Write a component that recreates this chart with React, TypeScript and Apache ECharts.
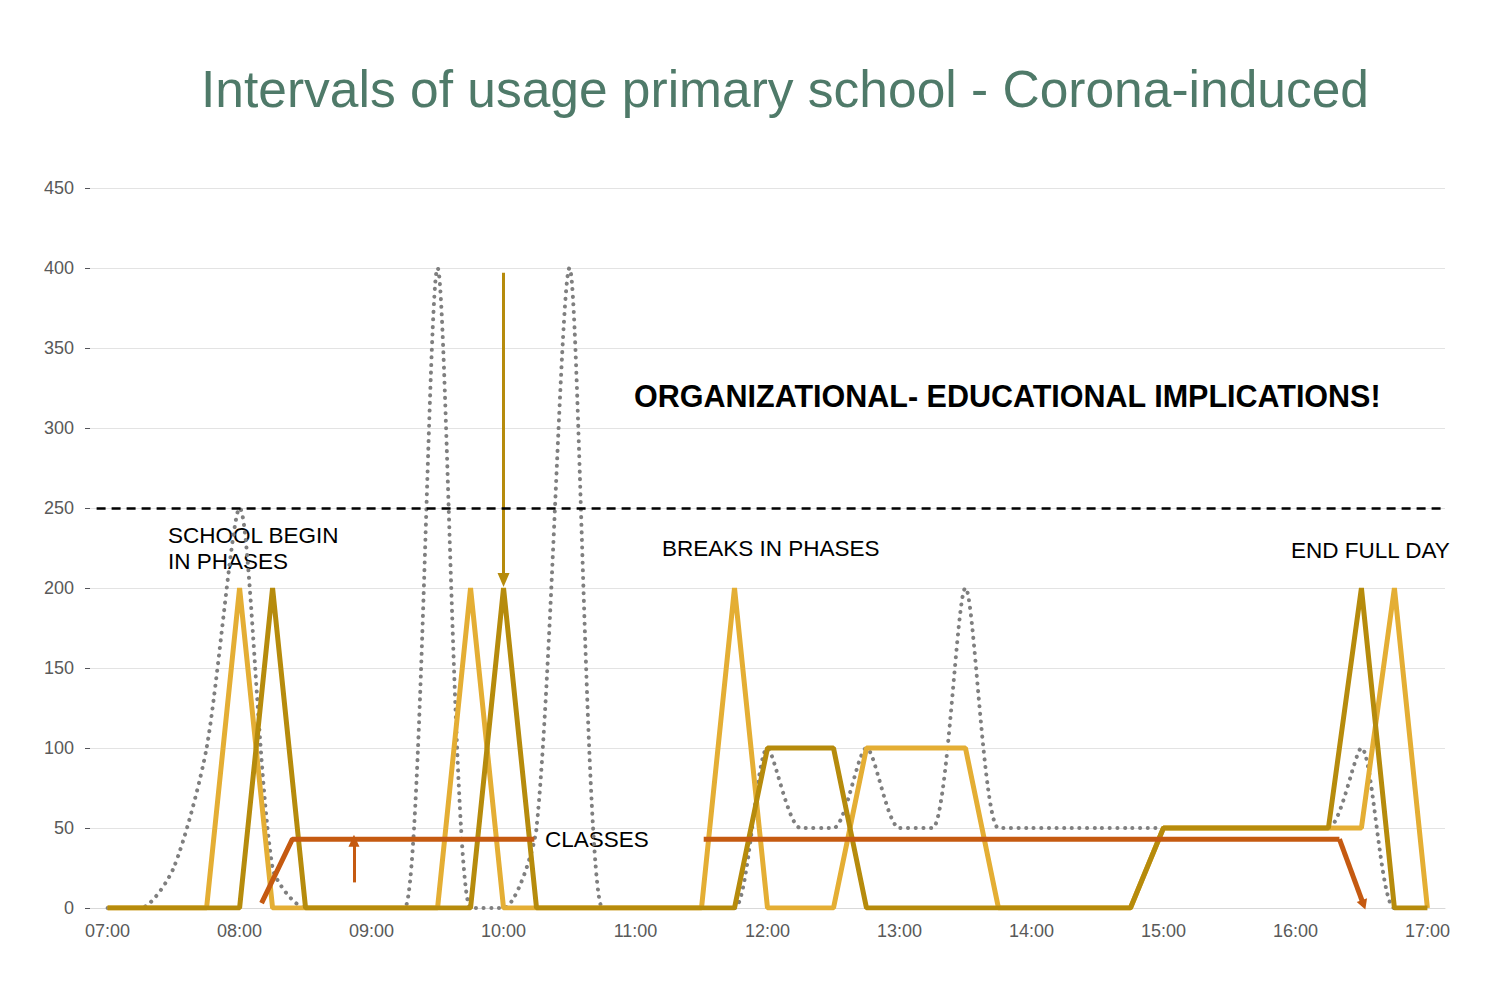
import React, { useEffect, useRef } from "react";
import * as echarts from "echarts";

// times in minutes since midnight, every 15 min from 07:00 to 17:00
const times: number[] = [];
for (let m = 420; m <= 1020; m += 15) times.push(m);

const lightGold = [
  0, 0, 0, 0, 200, 0, 0, 0, 0, 0, 0, 200, 0, 0, 0, 0, 0, 0, 0, 200, 0, 0, 0, 100,
  100, 100, 100, 0, 0, 0, 0, 0, 50, 50, 50, 50, 50, 50, 50, 200, 0,
];
const darkGold = [
  0, 0, 0, 0, 0, 200, 0, 0, 0, 0, 0, 0, 200, 0, 0, 0, 0, 0, 0, 0, 100, 100, 100, 0,
  0, 0, 0, 0, 0, 0, 0, 0, 50, 50, 50, 50, 50, 50, 200, 0, 0,
];
const visitors = [
  0, 0, 25, 100, 250, 25, 0, 0, 0, 0, 400, 0, 0, 50, 400, 0, 0, 0, 0, 0, 100, 50, 50,
  100, 50, 50, 200, 50, 50, 50, 50, 50, 50, 50, 50, 50, 50, 50, 100, 0, 0,
];
const classesA = [
  [490, 3],
  [504, 43],
  [614, 43],
];
const classesB = [
  [691, 43],
  [980, 43],
];
const hourTicks = [420, 480, 540, 600, 660, 720, 780, 840, 900, 960, 1020];
const yTicks = [0, 50, 100, 150, 200, 250, 300, 350, 400, 450];

const fmt = (m: number) => `${String(Math.floor(m / 60)).padStart(2, "0")}:00`;
const pair = (arr: number[]) => times.map((t, i) => [t, arr[i]]);

const App: React.FC = () => {
  const ref = useRef<HTMLDivElement>(null);

  useEffect(() => {
    if (!ref.current) return;
    const chart = echarts.init(ref.current, undefined, { renderer: "svg" });
    const txt = (left: number, top: number, text: string, size = 22.5, weight = "normal") => ({
      type: "text",
      left,
      top,
      style: { text, fontSize: size, fontWeight: weight, fill: "#000", fontFamily: "Liberation Sans", lineHeight: 26 },
    });
    chart.setOption({
      animation: false,
      textStyle: { fontFamily: "Liberation Sans" },
      title: {
        text: "Intervals of usage primary school - Corona-induced",
        left: 780,
        textAlign: "center",
        top: 58,
        textStyle: { fontSize: 51.5, fontWeight: "normal", color: "#4F7A69", fontFamily: "Liberation Sans" },
      },
      grid: { left: 90, right: 55, top: 188, bottom: 92 },
      xAxis: {
        type: "value",
        min: 412,
        max: 1028,
        axisLine: { show: true, lineStyle: { color: "#d9d9d9" } },
        axisTick: { show: false },
        splitLine: { show: false },
        axisLabel: { customValues: hourTicks, formatter: (v: number) => fmt(v), color: "#595959", fontSize: 18, margin: 14 },
      },
      yAxis: {
        type: "value",
        min: 0,
        max: 450,
        interval: 50,
        axisLine: { show: false },
        axisLabel: { customValues: yTicks, color: "#595959", fontSize: 18, margin: 16 },
        splitLine: { lineStyle: { color: "#e3e3e3" } },
      },
      series: [
        {
          type: "line",
          data: pair(visitors),
          smooth: 0.25,
          symbol: "none",
          lineStyle: { color: "#7F7F7F", width: 4, type: [0.1, 7.5], cap: "round" },
          z: 1,
        },
        {
          type: "line",
          data: pair(lightGold),
          symbol: "none",
          lineStyle: { color: "#E4AE34", width: 5 },
          z: 2,
        },
        {
          type: "line",
          data: pair(darkGold),
          symbol: "none",
          lineStyle: { color: "#B68B0C", width: 5 },
          z: 3,
          markLine: {
            silent: true,
            label: { show: false },
            data: [
              [
                { coord: [600, 397], symbol: "none" },
                { coord: [600, 205], symbol: "triangle", symbolSize: [12, 14] },
              ],
            ],
            lineStyle: { color: "#B68B0C", width: 3, type: "solid" },
          },
        },
        {
          type: "line",
          data: classesA,
          symbol: "none",
          lineStyle: { color: "#C55A11", width: 5 },
          z: 4,
          markLine: {
            silent: true,
            label: { show: false },
            data: [
              [
                { coord: [532, 16], symbol: "none" },
                { coord: [532, 42], symbol: "triangle", symbolSize: [11, 12] },
              ],
            ],
            lineStyle: { color: "#C55A11", width: 3, type: "solid" },
          },
        },
        {
          type: "line",
          data: classesB,
          symbol: "none",
          lineStyle: { color: "#C55A11", width: 5 },
          z: 4,
          markLine: {
            silent: true,
            label: { show: false },
            data: [
              [
                { coord: [980, 43], symbol: "none" },
                { coord: [991, 2], symbol: "triangle", symbolSize: [11, 10] },
              ],
            ],
            lineStyle: { color: "#C55A11", width: 5, type: "solid" },
          },
        },
        {
          type: "line",
          data: [],
          markLine: {
            silent: true,
            symbol: "none",
            label: { show: false },
            data: [[{ coord: [415, 250] }, { coord: [1028, 250] }]],
            lineStyle: { color: "#000", width: 2.5, type: [9, 6] },
          },
        },
      ],
      graphic: [
        txt(168, 522, "SCHOOL BEGIN\nIN PHASES"),
        txt(662, 535, "BREAKS IN PHASES"),
        txt(1291, 537, "END FULL DAY"),
        txt(545, 826, "CLASSES"),
        txt(634, 380, "ORGANIZATIONAL- EDUCATIONAL IMPLICATIONS!", 30.5, "bold"),
      ],
    });
    return () => chart.dispose();
  }, []);

  return (
    <div
      ref={ref}
      style={{ position: "fixed", left: 0, top: 0, width: 1500, height: 1000, background: "#fff" }}
    />
  );
};

export default App;
